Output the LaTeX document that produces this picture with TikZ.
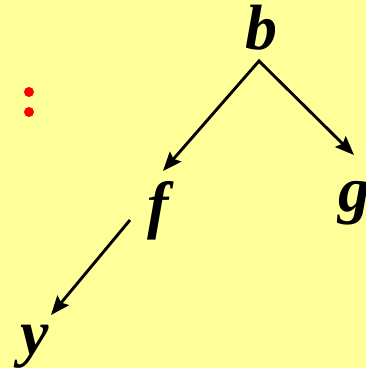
\documentclass[tikz,border=0pt]{standalone}
\usepackage{fontspec}
\setmainfont{Liberation Serif}
\usetikzlibrary{arrows.meta}
\definecolor{paper}{HTML}{FFFF99}
\definecolor{ink}{HTML}{000000}
\definecolor{dotred}{HTML}{FF0000}
\tikzset{
  >={Stealth[length=19pt,width=15pt,inset=3pt]},
  edge/.style={draw=ink, line width=2.9pt, miter limit=10},
  letter/.style={font=\fontsize{64}{64}\selectfont\bfseries\itshape, text=ink, inner sep=0pt, anchor=base},
  reddot/.style={fill=dotred, draw=none},
}
\begin{document}
\begin{tikzpicture}[x=1pt,y=-1pt]

% Canvas ----------------------------------------------------------------------
\fill[paper] (0,0) rectangle (366,368);
\useasboundingbox (0,0) rectangle (366,368);

% Tree letters -----------------------------------------------------------------
\node[letter] (b) at (261,49) {b};
\node[letter] (f) at (158,226) {f};
\node[letter] (g) at (354,211) {g};
\node[letter] (y) at (35,354) {y};

% Arrow ends
\coordinate (b-root) at (259,61);
\coordinate (f-in)   at (163,171);
\coordinate (g-in)   at (354,155);
\coordinate (f-out)  at (130,220);
\coordinate (y-in)   at (51,315);

\draw[edge, <->] (f-in) -- (b-root) -- (g-in);
\draw[edge, ->] (f-out) -- (y-in);

% Red colon --------------------------------------------------------------------
\fill[reddot] (29,92) circle (5);
\fill[reddot] (29,112) circle (5);

\end{tikzpicture}
\end{document}
